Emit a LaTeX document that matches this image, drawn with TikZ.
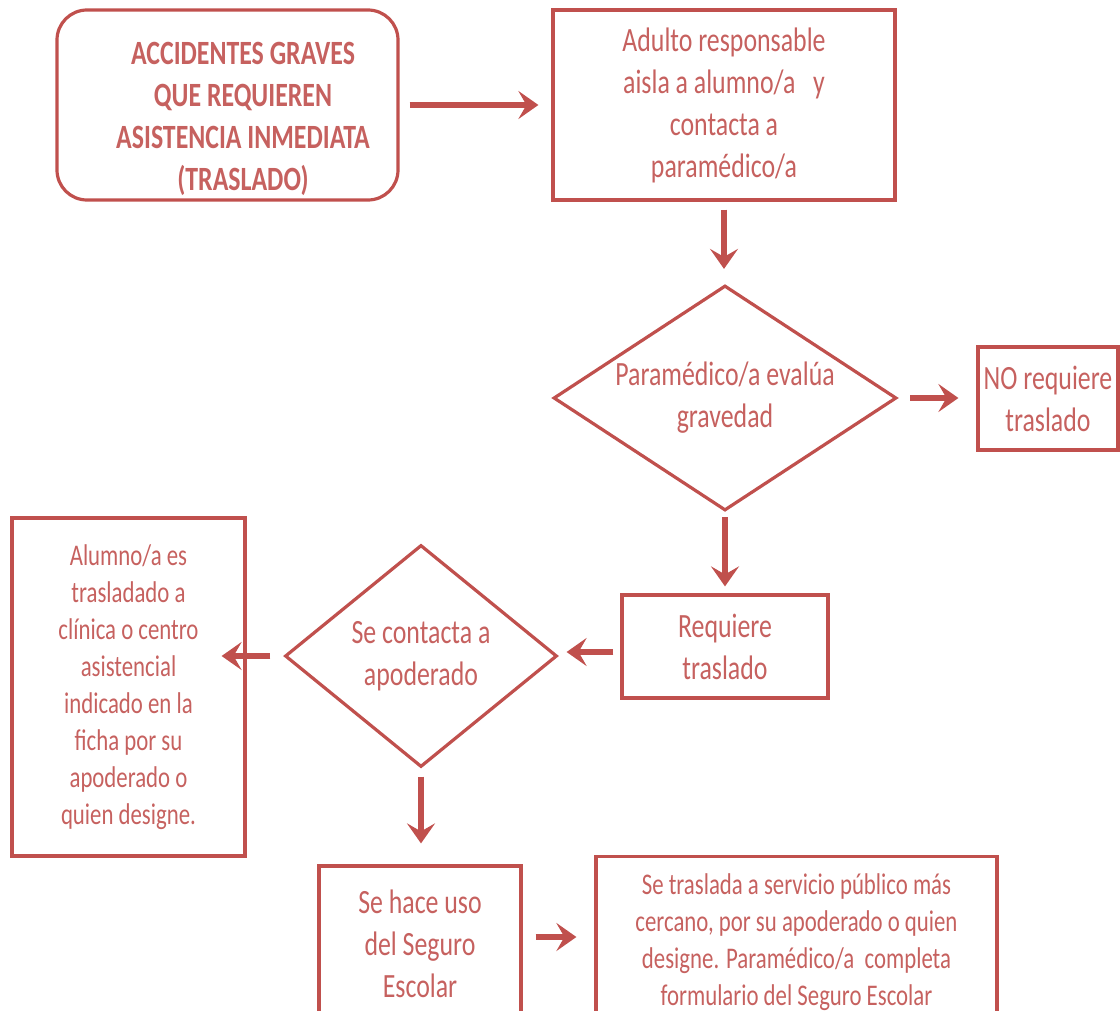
\documentclass[tikz,border=0pt]{standalone}
\usepackage{fontspec}
\setmainfont{Carlito}[FakeStretch=0.76]
\usetikzlibrary{arrows.meta,positioning,shapes.geometric}
\definecolor{accred}{HTML}{C0504D}
\tikzset{
  fbox/.style    ={draw=accred, line width=1.6pt, align=center, inner sep=2pt,
                   text=accred!90, font=\fontsize{17}{21}\selectfont},
  titlebox/.style={fbox, rounded corners=15pt},
  titletxt/.style={align=center, inner sep=0pt, text=accred!90,
                   font=\fontsize{17}{21}\selectfont\bfseries},
  decis/.style   ={fbox, diamond, aspect=1.5, inner sep=0pt},
  smallbox/.style={fbox, font=\fontsize{15}{18.5}\selectfont},
  ar/.style      ={-{Stealth[length=10pt,width=14pt,inset=4pt]}, draw=accred,
                   line width=3pt, shorten <=5pt, shorten >=6pt},
}

\begin{document}
\begin{tikzpicture}[x=0.5pt, y=-0.5pt]
\useasboundingbox (0,0) rectangle (1120,1011);
\clip (0,0) rectangle (1120,1011);

% ---- top row ----
\node[titlebox, minimum width=170.5pt, minimum height=95pt] (grave) at (227.5,105) {};
\node[titletxt] (gravetxt) at (243,119)
  {ACCIDENTES GRAVES\\QUE REQUIEREN\\ASISTENCIA INMEDIATA\\(TRASLADO)};
\node[fbox, minimum width=171pt, minimum height=95pt] (aisla) at (724,105)
  {Adulto responsable\\aisla a alumno/a\ \ \ y\\contacta a\\paramédico/a};

% ---- evaluation ----
\node[decis, minimum width=171.5pt, minimum height=112.5pt] (evalua) at (725,398)
  {Paramédico/a evalúa\\gravedad};
\node[fbox, minimum width=70pt, minimum height=51.5pt] (notras) at (1048,398.5)
  {NO requiere\\traslado};
\node[fbox, minimum width=103pt, minimum height=51.5pt] (requiere) at (725,646.5)
  {Requiere\\traslado};

% ---- guardian ----
\node[decis, minimum width=136pt, minimum height=111pt] (apod) at (421,656)
  {Se contacta a\\apoderado};
\node[smallbox, minimum width=116.5pt, minimum height=169pt] (clinica) at (128.5,687)
  {Alumno/a es\\trasladado a\\clínica o centro\\asistencial\\indicado en la\\ficha por su\\apoderado o\\quien designe.};

% ---- insurance ----
\node[fbox, minimum width=101pt, minimum height=78pt] (seguro) at (420,944)
  {Se hace uso\\del Seguro\\Escolar};
\node[smallbox, minimum width=200.5pt, minimum height=85.5pt] (publico) at (796.5,942)
  {Se traslada a servicio público más\\cercano, por su apoderado o quien\\designe. Paramédico/a\ \ completa\\formulario del Seguro Escolar};

\draw[ar, shorten >=6.5pt] (grave) -- (aisla);
\draw[ar, shorten <=4pt, shorten >=7.5pt] (aisla.south) -- (aisla.south |- evalua.north);
\draw[ar, shorten <=6pt, shorten >=9pt] (evalua) -- (evalua -| notras.west);
\draw[ar, shorten <=2.5pt, shorten >=3.5pt] (evalua) -- (requiere);
\draw[ar, shorten <=3.5pt, shorten >=4pt] (requiere.west |- 0,652) -- (apod.east |- 0,652);
\draw[ar, shorten <=6.5pt, shorten >=-12.5pt] (apod.west) -- (clinica.east |- apod.west);
\draw[ar, shorten <=4pt, shorten >=10.5pt] (apod.south) -- (apod.south |- seguro.north);
\draw[ar, shorten <=6.5pt, shorten >=9pt] (seguro.east |- 0,937) -- (publico.west |- 0,937);

\end{tikzpicture}
\end{document}
